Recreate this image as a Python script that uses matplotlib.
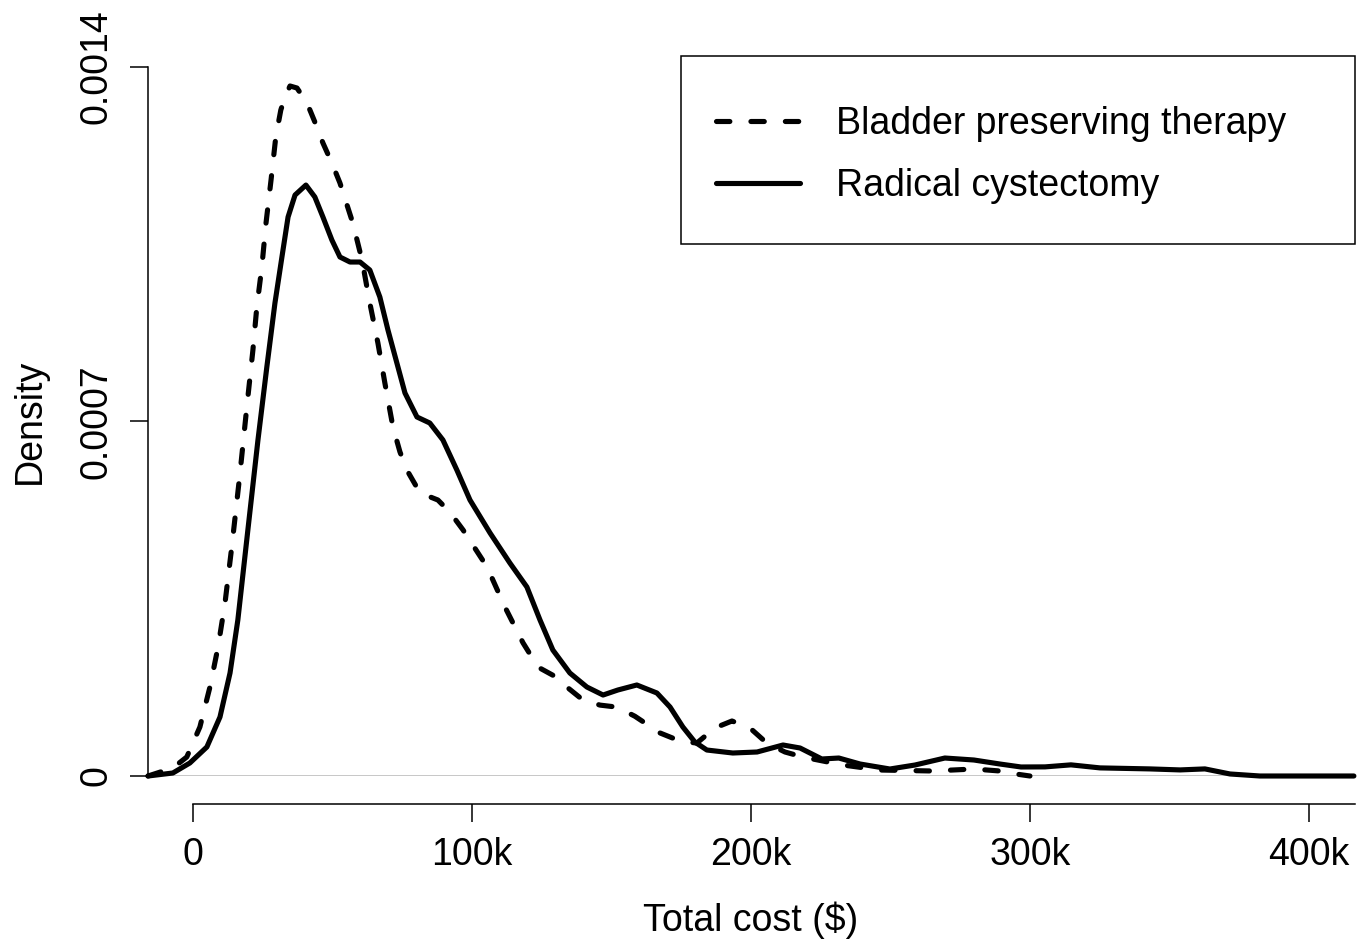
import matplotlib
matplotlib.use("Agg")
import matplotlib.pyplot as plt
from matplotlib.patches import Rectangle

plt.rcParams['font.family'] = ['Liberation Sans', 'DejaVu Sans']

# total cost in thousands of dollars, density per dollar
bpt_cost = [-16.1, -7.2, -2.2, 2.5, 6.1, 9.0, 11.5, 14.0, 16.8, 19.4, 21.5, 22.9,
            24.7, 26.2, 28.0, 29.7, 31.5, 33.0, 34.8, 37.3, 40.9, 43.7, 46.6,
            49.8, 52.7, 57.3, 60.6, 63.4, 66.3, 68.8, 71.7, 74.2, 76.7, 81.4,
            87.8, 92.1, 96.8, 105.4, 111.8, 118.3, 123.7, 129.0, 134.4, 139.8,
            145.9, 152.0, 158.4, 167.4, 174.6, 180.6, 187.1, 193.2, 199.6, 205.7,
            212.2, 218.6, 233.0, 246.2, 264.9, 279.9, 289.2, 295.0, 300.0]
bpt_density = [0.0, 1.58e-5, 3.75e-5, 9.68e-5, 1.757e-4, 2.547e-4, 3.416e-4,
               4.56e-4, 5.94e-4, 7.33e-4, 8.41e-4, 9.26e-4, 1.0051e-3, 1.092e-3,
               1.1769e-3, 1.2618e-3, 1.315e-3, 1.3408e-3, 1.3625e-3, 1.3585e-3,
               1.3289e-3, 1.2914e-3, 1.2499e-3, 1.2104e-3, 1.1709e-3, 1.092e-3,
               1.0189e-3, 9.34e-4, 8.55e-4, 7.76e-4, 6.89e-4, 6.40e-4, 6.04e-4,
               5.59e-4, 5.45e-4, 5.21e-4, 4.86e-4, 4.13e-4, 3.34e-4, 2.63e-4,
               2.15e-4, 1.99e-4, 1.74e-4, 1.50e-4, 1.40e-4, 1.36e-4, 1.18e-4,
               8.5e-5, 6.9e-5, 6.5e-5, 9.5e-5, 1.086e-4, 9.5e-5, 6.5e-5, 4.74e-5,
               3.75e-5, 2.17e-5, 1.18e-5, 9.9e-6, 1.38e-5, 9.9e-6, 3.9e-6, 0.0]

rc_cost = [-16.1, -7.2, -1.1, 5.0, 9.7, 13.3, 16.1, 19.7, 23.3, 26.5, 29.4, 31.9,
           34.1, 36.6, 40.5, 43.7, 46.6, 49.8, 52.7, 56.3, 59.9, 63.4, 67.0,
           69.9, 73.1, 76.0, 80.3, 84.9, 89.6, 94.6, 99.3, 106.5, 113.6, 119.7,
           124.4, 129.0, 135.1, 141.2, 147.0, 152.3, 159.1, 166.3, 171.0, 175.6,
           179.9, 184.2, 193.5, 202.2, 211.5, 217.6, 225.4, 231.5, 239.1, 249.8,
           258.8, 269.5, 279.9, 289.2, 296.8, 305.4, 314.7, 325.1, 343.0, 353.8,
           362.7, 371.7, 382.4, 416.1]
rc_density = [0.0, 5.9e-6, 2.57e-5, 5.73e-5, 1.165e-4, 2.034e-4, 3.08e-4, 4.86e-4,
              6.63e-4, 8.08e-4, 9.34e-4, 1.0248e-3, 1.1038e-3, 1.1472e-3,
              1.1669e-3, 1.1433e-3, 1.1038e-3, 1.0584e-3, 1.0248e-3, 1.0149e-3,
              1.0149e-3, 9.991e-4, 9.458e-4, 8.807e-4, 8.155e-4, 7.563e-4,
              7.089e-4, 6.97e-4, 6.635e-4, 6.042e-4, 5.45e-4, 4.798e-4, 4.206e-4,
              3.732e-4, 3.08e-4, 2.488e-4, 2.034e-4, 1.757e-4, 1.599e-4, 1.698e-4,
              1.797e-4, 1.639e-4, 1.362e-4, 9.68e-5, 6.71e-5, 5.13e-5, 4.54e-5,
              4.74e-5, 6.12e-5, 5.53e-5, 3.36e-5, 3.55e-5, 2.37e-5, 1.38e-5,
              2.17e-5, 3.55e-5, 3.16e-5, 2.37e-5, 1.78e-5, 1.8e-5, 2.2e-5, 1.6e-5,
              1.4e-5, 1.2e-5, 1.4e-5, 4e-6, 0.0, 0.0]

x_ticks = [0, 100, 200, 300, 400]
x_labels = ['0', '100k', '200k', '300k', '400k']
y_ticks = [0, 0.0007, 0.0014]
y_labels = ['0', '0.0007', '0.0014']
series_names = ['Bladder preserving therapy', 'Radical cystectomy']

W, H = 1371, 948
fig = plt.figure(figsize=(W / 100, H / 100), dpi=100)
ax = fig.add_axes([148 / W, 1 - 776 / H, (1355 - 148) / W, (776 - 67) / H])
ax.set_xlim(-16.1, 416.5)
ax.set_ylim(0, 0.0014)

ax.axhline(0, color='#bebebe', lw=1.2, zorder=1)
ax.plot(bpt_cost, bpt_density, color='black', lw=3.7, ls=(0, (2.6, 4.1)),
        dash_capstyle='round', dash_joinstyle='round', clip_on=False,
        label=series_names[0])
ax.plot(rc_cost, rc_density, color='black', lw=3.7, solid_capstyle='round',
        solid_joinstyle='round', clip_on=False, label=series_names[1])

for s in ['top', 'right']:
    ax.spines[s].set_visible(False)
ax.spines['left'].set_bounds(0, 0.0014)
ax.spines['bottom'].set_position(('outward', 20.2))
ax.spines['bottom'].set_bounds(0, 416.5)
for s in ['left', 'bottom']:
    ax.spines[s].set_linewidth(1.1)

ax.set_xticks(x_ticks, x_labels)
ax.set_yticks(y_ticks, y_labels)
ax.tick_params(length=13, width=1.1, labelsize=27, direction='out')
ax.tick_params(axis='x', pad=11)
ax.tick_params(axis='y', pad=11)
plt.setp(ax.get_yticklabels(), rotation=90, va='center')

fig.text(30 / W, 1 - 421 / H, 'Density', rotation=90, ha='center',
         va='center', fontsize=27)
fig.text(751 / W, 1 - 920 / H, 'Total cost ($)', ha='center', va='center',
         fontsize=27)

fig.patches.append(Rectangle((681 / W, 1 - 244 / H), (1355 - 681) / W,
                             (244 - 56) / H, transform=fig.transFigure,
                             fill=False, ec='black', lw=1.1))
ax.legend(loc='center left', bbox_to_anchor=(716 / W, 1 - 155 / H),
          bbox_transform=fig.transFigure, frameon=False, fontsize=27,
          borderpad=0, borderaxespad=0, handlelength=2.24,
          handletextpad=0.96, labelspacing=0.7)

fig.savefig('out.png', dpi=100)
